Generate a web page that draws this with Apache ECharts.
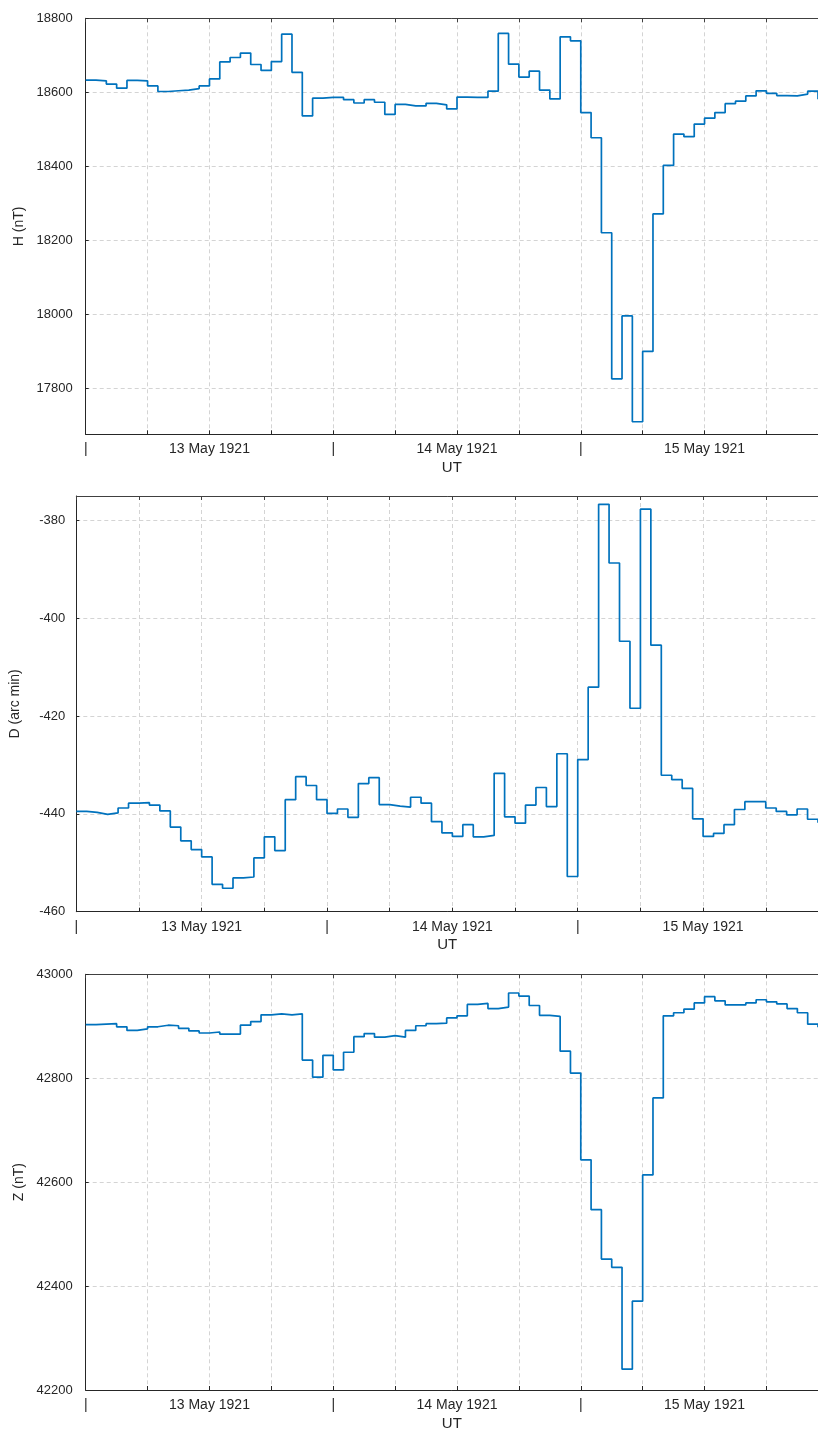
<!DOCTYPE html>
<html><head><meta charset="utf-8">
<script src="https://cdn.jsdelivr.net/npm/echarts@6/dist/echarts.min.js"></script>
<style>html,body{margin:0;padding:0;background:#fff;overflow:hidden}#c{width:818px;height:1434px}</style>
</head><body><div id="c"></div>
<script>
// Hourly values starting 13 May 1921 00:00 UT
const dayLabels = ['13 May 1921', '14 May 1921', '15 May 1921'];
const yNames = ['H (nT)', 'D (arc min)', 'Z (nT)'];
const xName = 'UT';

const H = [18633, 18631, 18622, 18611, 18632, 18631, 18617, 18602, 18604, 18606, 18610, 18617,
  18636, 18682, 18694, 18706, 18675, 18659, 18683, 18757, 18654, 18536, 18584, 18586,
  18586, 18580, 18571, 18580, 18573, 18540, 18567, 18563, 18563, 18570, 18566, 18555,
  18587, 18586, 18586, 18603, 18759, 18676, 18641, 18657, 18606, 18582, 18750, 18739,
  18545, 18477, 18220, 17825, 17995, 17709, 17899, 18271, 18402, 18487, 18480, 18514,
  18530, 18545, 18569, 18576, 18590, 18604, 18597, 18591, 18590, 18595, 18603, 18581];

const D = [-439.5, -439.7, -440.1, -439.8, -438.8, -437.8, -437.7, -438.2, -439.4, -442.7, -445.5, -447.3,
  -448.8, -454.4, -455.2, -453.1, -452.9, -449.0, -444.7, -447.5, -437.1, -432.4, -434.2, -437.1,
  -439.9, -439.0, -440.7, -433.8, -432.6, -438.1, -438.4, -438.6, -436.6, -437.8, -441.6, -443.9,
  -444.6, -442.2, -444.7, -444.4, -431.7, -440.6, -441.9, -438.2, -434.6, -438.5, -427.7, -452.8,
  -428.9, -414.1, -376.7, -388.7, -404.7, -418.4, -377.7, -405.5, -432.1, -433.0, -434.8, -441.0,
  -444.6, -444.0, -442.2, -439.1, -437.5, -437.5, -438.8, -439.5, -440.2, -439.0, -441.1, -441.8];

const Z = [42903, 42904, 42905, 42899, 42892, 42895, 42899, 42902, 42901, 42896, 42891, 42887,
  42889, 42885, 42885, 42902, 42909, 42922, 42924, 42922, 42924, 42835, 42802, 42844,
  42816, 42850, 42880, 42886, 42879, 42882, 42879, 42892, 42901, 42905, 42906, 42916,
  42920, 42942, 42944, 42934, 42937, 42964, 42958, 42940, 42921, 42919, 42852, 42810,
  42643, 42547, 42452, 42436, 42240, 42371, 42614, 42762, 42920, 42926, 42933, 42945,
  42957, 42949, 42941, 42941, 42945, 42951, 42947, 42943, 42934, 42926, 42904, 42898];

const FONT = '"Liberation Sans", Arial, Helvetica, sans-serif';
const TXT = '#262626';
const AX = '#262626';
const GRIDC = '#d4d4d4';
const LINE = '#0072BD';

const grids = [
  { left: 85.7, top: 18.3, right: 0, height: 416 },
  { left: 76.3, top: 496, right: 0, height: 415.7 },
  { left: 85.7, top: 974.3, right: 0, height: 415.7 }
];
const yCfg = [
  { min: 17675, max: 18800, splitNumber: 5, showMinLabel: false, showMaxLabel: true, gap: 52, margin: 13 },
  { min: -460, max: -375, interval: 20, showMinLabel: true, showMaxLabel: false, gap: 54, margin: 11 },
  { min: 42200, max: 43000, interval: 200, showMinLabel: true, showMaxLabel: true, gap: 52, margin: 13 }
];
const series = [H, D, Z];

const xAxes = [], yAxes = [], ser = [];
grids.forEach((g, i) => {
  xAxes.push({
    type: 'value', gridIndex: i, min: 0, max: 71, interval: 6, position: 'bottom',
    name: xName, nameLocation: 'middle', nameGap: 26,
    nameTextStyle: { fontFamily: FONT, fontSize: 15, color: TXT },
    axisLine: { show: true, lineStyle: { color: AX, width: 1 } },
    axisTick: { show: true, inside: true, length: 4, lineStyle: { color: AX } },
    axisLabel: {
      show: true, margin: 8, fontFamily: FONT, fontSize: 14, color: TXT,
      showMinLabel: true, showMaxLabel: false, hideOverlap: false,
      formatter: v => (v % 24 === 0 ? '|' : (v % 24 === 12 ? dayLabels[Math.floor(v / 24)] : ''))
    },
    splitLine: { show: true, lineStyle: { color: GRIDC, type: [4, 3], width: 1 } }
  });
  xAxes.push({
    type: 'value', gridIndex: i, min: 0, max: 71, interval: 6, position: 'top',
    axisLine: { show: true, lineStyle: { color: '#404040', width: 1 } },
    axisTick: { show: true, inside: true, length: 4, lineStyle: { color: '#404040' } },
    axisLabel: { show: false }, splitLine: { show: false }
  });
  const c = yCfg[i];
  const ya = {
    type: 'value', gridIndex: i, min: c.min, max: c.max, scale: true,
    name: yNames[i], nameLocation: 'middle', nameGap: c.gap, nameRotate: 90,
    nameTextStyle: { fontFamily: FONT, fontSize: 14, color: TXT },
    axisLine: { show: true, lineStyle: { color: AX, width: 1 } },
    axisTick: { show: true, inside: true, length: 3, lineStyle: { color: AX } },
    axisLabel: {
      show: true, margin: c.margin, fontFamily: FONT, fontSize: 13, color: TXT,
      showMinLabel: c.showMinLabel, showMaxLabel: c.showMaxLabel, hideOverlap: false,
      formatter: v => String(Math.round(v))
    },
    splitLine: { show: true, lineStyle: { color: GRIDC, type: [4, 3], width: 1 } }
  };
  if (c.interval) ya.interval = c.interval; else ya.splitNumber = c.splitNumber;
  yAxes.push(ya);
  ser.push({
    type: 'line', step: 'end', xAxisIndex: i * 2, yAxisIndex: i,
    data: series[i].map((v, h) => [h, v]),
    showSymbol: false, symbol: 'none', animation: false,
    lineStyle: { color: LINE, width: 1.7 }, itemStyle: { color: LINE }
  });
});

const chart = echarts.init(document.getElementById('c'), null, { renderer: 'canvas' });
chart.setOption({
  backgroundColor: '#ffffff',
  animation: false,
  grid: grids,
  xAxis: xAxes,
  yAxis: yAxes,
  series: ser
});
</script>
</body></html>
